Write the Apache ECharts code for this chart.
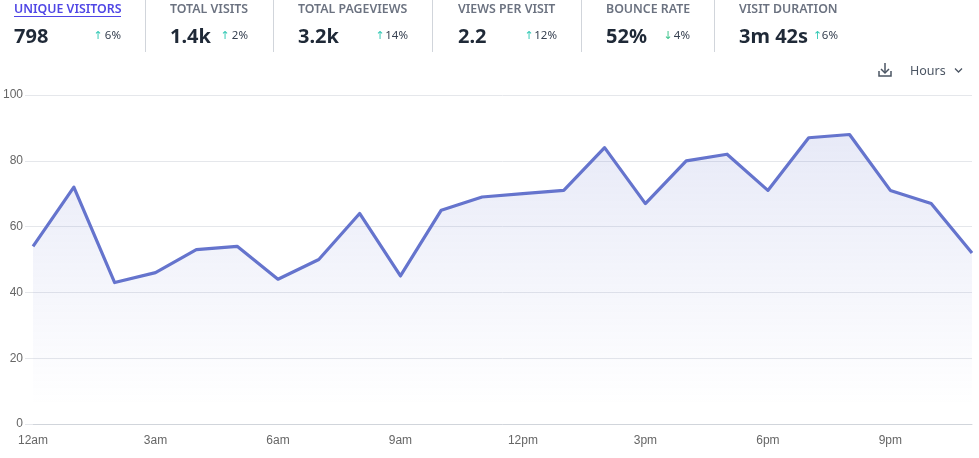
<!DOCTYPE html>
<html><head><meta charset="utf-8">
<style>html,body{margin:0;padding:0;background:#fff}#c{width:979px;height:458px}</style>
<script src="https://cdn.jsdelivr.net/npm/echarts@6/dist/echarts.min.js"></script>
</head><body><div id="c"></div>
<script>
const hours = ['12am','1am','2am','3am','4am','5am','6am','7am','8am','9am','10am','11am','12pm','1pm','2pm','3pm','4pm','5pm','6pm','7pm','8pm','9pm','10pm','11pm'];
const visitors = [54,72,43,46,53,54,44,50,64,45,65,69,70,71,84,67,80,82,71,87,88,71,67,52];
const metricNames = ['UNIQUE VISITORS','TOTAL VISITS','TOTAL PAGEVIEWS','VIEWS PER VISIT','BOUNCE RATE','VISIT DURATION'];
const metricValues = ['798','1.4k','3.2k','2.2','52%','3m 42s'];
const metricDeltas = ['6%','2%','14%','12%','4%','6%'];
const metricArrows = ['↑','↑','↑','↑','↓','↑'];
const intervalLabel = 'Hours';

const FONT = '"Noto Sans","Open Sans",sans-serif';
const nameX = [14,170,298,458,606,739];
const deltaRight = [121,248,408,557,690,838];
const arrowX = [98,225,380,529,668,817.5];
const dividers = [145,273,432,581,714];

const g = [];
metricNames.forEach((n,i)=>{
  g.push({type:'text',x:nameX[i],y:9.5,style:{text:n,font:'600 12.35px '+FONT,fill:i===0?'#4f46e5':'#6b7280',textVerticalAlign:'middle'}});
  g.push({type:'text',x:nameX[i],y:37.5,style:{text:metricValues[i],font:'700 20px '+FONT,fill:'#1f2937',textVerticalAlign:'middle'}});
  g.push({type:'text',x:deltaRight[i],y:36,style:{text:metricDeltas[i],font:'11.5px '+FONT,fill:'#374151',textAlign:'right',textVerticalAlign:'middle'}});
  g.push({type:'text',x:arrowX[i],y:36,style:{text:metricArrows[i],font:'11px "DejaVu Sans"',fill:metricArrows[i]==='↑'?'#34c9b5':'#3cc48c',textAlign:'center',textVerticalAlign:'middle'}});
});
g.push({type:'rect',shape:{x:14,y:16,width:107,height:1},style:{fill:'#4f46e5'}});
dividers.forEach(x=>g.push({type:'rect',shape:{x:x,y:0,width:1,height:52},style:{fill:'#d1d5db'}}));
g.push({type:'text',x:910,y:71,style:{text:intervalLabel,font:'12.5px '+FONT,fill:'#4b5563',textVerticalAlign:'middle'}});
g.push({type:'polyline',shape:{points:[[955,68.5],[958.5,72],[962,68.5]]},style:{stroke:'#4b5563',lineWidth:1.3,fill:null}});
g.push({type:'polyline',shape:{points:[[885,63],[885,72]]},style:{stroke:'#4b5563',lineWidth:1.5,fill:null}});
g.push({type:'polyline',shape:{points:[[881,69],[885,73],[889,69]]},style:{stroke:'#4b5563',lineWidth:1.5,fill:null}});
g.push({type:'polyline',shape:{points:[[879,71],[879,76],[891,76],[891,71]]},style:{stroke:'#4b5563',lineWidth:1.5,fill:null}});

const chart = echarts.init(document.getElementById('c'),null,{renderer:'canvas'});
chart.setOption({
  animation:false,
  grid:{left:30,right:7,top:95,bottom:34},
  graphic:g,
  xAxis:{type:'category',data:hours,boundaryGap:false,
    axisLine:{lineStyle:{color:'#d1d5db'}},axisTick:{show:false},
    axisLabel:{interval:2,color:'#666',fontFamily:'"Liberation Sans",Arial,sans-serif',fontSize:12,margin:11},splitLine:{show:false}},
  yAxis:{type:'value',min:0,max:100,interval:20,
    axisLine:{show:false},axisTick:{show:true,length:8,lineStyle:{color:'#e5e7eb'}},
    axisLabel:{color:'#666',fontFamily:'"Liberation Sans",Arial,sans-serif',fontSize:12,margin:10},
    splitLine:{lineStyle:{color:'#e5e7eb'}}},
  series:[{type:'line',data:visitors,smooth:false,showSymbol:false,
    lineStyle:{color:'#6574cd',width:3.2,join:'round'},
    areaStyle:{color:new echarts.graphic.LinearGradient(0,95,0,405,[{offset:0,color:'rgba(101,116,205,0.25)'},{offset:1,color:'rgba(101,116,205,0)'}],true)}}]
});
</script></body></html>
